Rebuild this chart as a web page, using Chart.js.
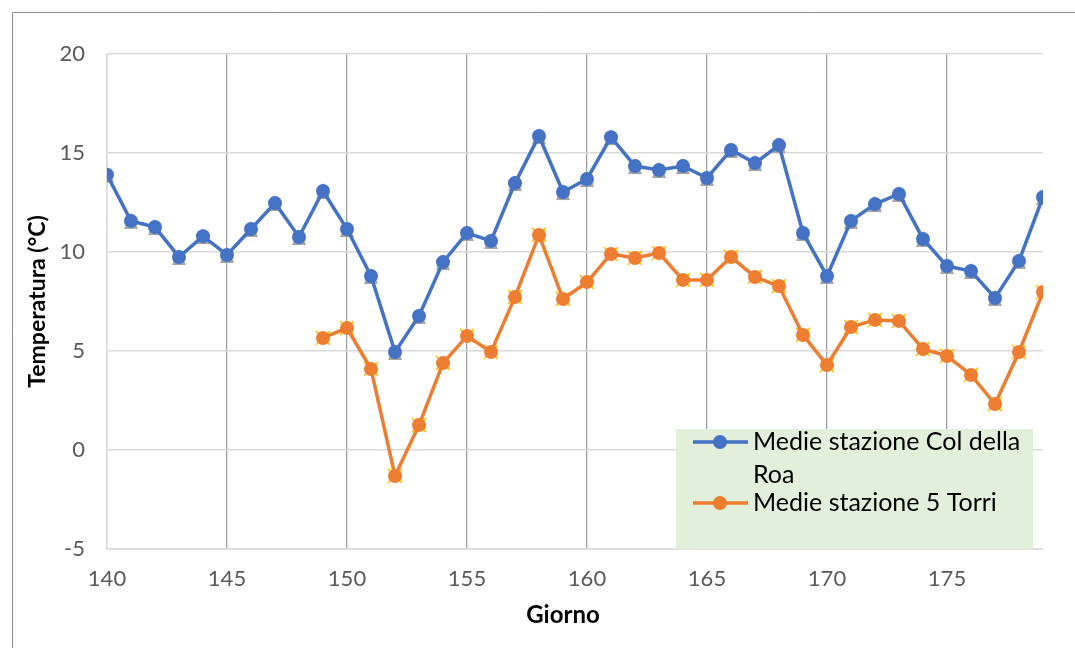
<!DOCTYPE html>
<html><head><meta charset="utf-8">
<script src="https://cdn.jsdelivr.net/npm/chart.js@4"></script>
<style>html,body{margin:0;padding:0;background:#fff}#wrap{width:1075px;height:648px}</style>
</head><body><div id="wrap"><canvas id="c" width="1075" height="648"></canvas></div>
<script>
// ---- data ----
const days = [140,141,142,143,144,145,146,147,148,149,150,151,152,153,154,155,156,157,158,159,160,161,162,163,164,165,166,167,168,169,170,171,172,173,174,175,176,177,178,179];
const colDellaRoa = [13.9,11.57,11.26,9.75,10.8,9.85,11.16,12.47,10.76,13.08,11.16,8.79,4.95,6.77,9.49,10.96,10.56,13.48,15.86,13.03,13.69,15.8,14.34,14.14,14.34,13.74,15.15,14.49,15.4,10.96,8.79,11.57,12.42,12.93,10.66,9.29,9.04,7.68,9.55,12.78];
const cinqueTorri = [null,null,null,null,null,null,null,null,null,5.66,6.16,4.09,-1.31,1.26,4.39,5.76,4.95,7.73,10.86,7.63,8.48,9.9,9.7,9.95,8.59,8.59,9.75,8.74,8.28,5.81,4.29,6.21,6.57,6.52,5.1,4.75,3.79,2.32,4.95,7.98];
const seriesNames = ["Medie stazione Col della Roa","Medie stazione 5 Torri"];
const xTickStep = 5, xMin = 140, xMax = 179;
const yTickStep = 5, yMin = -5, yMax = 20;
const xTitle = "Giorno", yTitle = "Temperatura (°C)";

const BLUE = '#4472c4', ORANGE = '#ed7d31';
const FONT = 'Lato, "Open Sans", sans-serif';
const pts = arr => days.map((d,i)=>({x:d,y:arr[i]}));

// gray triangle marker peeking under the blue circles
function triImg(){
  const c=document.createElement('canvas'); c.width=20; c.height=24;
  const g=c.getContext('2d'); g.fillStyle='#a5a5a5';
  g.beginPath(); g.moveTo(10,4); g.lineTo(17,20); g.lineTo(3,20); g.closePath(); g.fill();
  return c;
}

Chart.defaults.font.family = FONT;

const frame = {
  id:'frame',
  beforeDraw(ch){
    const ctx=ch.ctx; ctx.save();
    ctx.fillStyle='#fff'; ctx.fillRect(0,0,ch.width,ch.height);
    ctx.strokeStyle='#8c8c8c'; ctx.lineWidth=1;
    ctx.beginPath(); ctx.moveTo(12.5,648); ctx.lineTo(12.5,12.5); ctx.lineTo(1075,12.5); ctx.stroke();
    ctx.restore();
  }
};

const xTitleDraw = {
  id:'xTitleDraw',
  afterDraw(ch){
    const ctx=ch.ctx; ctx.save();
    ctx.font='bold 24px '+FONT; ctx.fillStyle='#000';
    ctx.textAlign='center'; ctx.textBaseline='middle';
    ctx.fillText(xTitle,563,615);
    ctx.restore();
  }
};

const legendBox = {
  id:'legendBox',
  afterDraw(ch){
    const ctx=ch.ctx; ctx.save();
    ctx.fillStyle='#e2efda'; ctx.fillRect(676,429,357,120);
    ctx.font='25px '+FONT;
    ctx.textBaseline='middle'; ctx.fillStyle='#000';
    const entries=[{name:seriesNames[0],color:BLUE,y:442},{name:seriesNames[1],color:ORANGE,y:503}];
    entries.forEach(e=>{
      ctx.strokeStyle=e.color; ctx.lineWidth=3.5;
      ctx.beginPath(); ctx.moveTo(693,e.y); ctx.lineTo(748,e.y); ctx.stroke();
      ctx.fillStyle=e.color; ctx.beginPath(); ctx.arc(720,e.y,7,0,Math.PI*2); ctx.fill();
      ctx.fillStyle='#000';
      const words=e.name.split(' '); let line=''; let yy=e.y;
      words.forEach(w=>{
        const t=line?line+' '+w:w;
        if(ctx.measureText(t).width>272 && line){ ctx.fillText(line,753,yy); line=w; yy+=33; }
        else line=t;
      });
      ctx.fillText(line,753,yy);
    });
    ctx.restore();
  }
};

new Chart(document.getElementById('c'),{
  type:'line',
  data:{datasets:[
    {label:seriesNames[0],data:pts(colDellaRoa),borderColor:BLUE,backgroundColor:BLUE,borderWidth:3.5,
     pointRadius:7,pointHoverRadius:7,pointBorderWidth:0,pointBackgroundColor:BLUE,tension:0,order:1},
    {label:'_tri',data:pts(colDellaRoa),showLine:false,pointStyle:triImg(),pointRadius:10,order:2},
    {label:seriesNames[1],data:pts(cinqueTorri),borderColor:ORANGE,backgroundColor:ORANGE,borderWidth:3.5,
     pointRadius:7,pointHoverRadius:7,pointBorderWidth:0,pointBackgroundColor:ORANGE,tension:0,spanGaps:false,order:3},
    {label:'_x',data:pts(cinqueTorri),showLine:false,pointStyle:'crossRot',pointRadius:10,borderColor:'#ffc000',pointBorderColor:'#ffc000',pointBorderWidth:1.5,order:4}
  ]},
  options:{
    responsive:false, animation:false, devicePixelRatio:1,
    layout:{padding:{left:0,top:54,right:32,bottom:0}},
    plugins:{legend:{display:false},tooltip:{enabled:false}},
    scales:{
      x:{type:'linear',min:xMin,max:xMax,
        ticks:{stepSize:xTickStep,includeBounds:false,color:'#595959',font:{size:22},padding:17,maxRotation:0},
        grid:{drawTicks:false,color:c=>c.index===0?'#d9d9d9':'#a0a0a0',lineWidth:1.3},
        border:{display:true,color:'#d9d9d9',width:1.5},
        title:{display:false,text:xTitle},
        afterFit:s=>{s.height=99;}
      },
      y:{min:yMin,max:yMax,
        ticks:{stepSize:yTickStep,color:'#595959',font:{size:22},padding:22},
        grid:{drawTicks:false,color:'#d9d9d9',lineWidth:1.5},
        border:{display:true,color:'#d9d9d9',width:1.5},
        title:{display:true,text:yTitle,color:'#000',font:{size:23,weight:'bold'},padding:{top:24,bottom:0}},
        afterFit:s=>{s.width=107;}
      }
    }
  },
  plugins:[frame,legendBox,xTitleDraw]
});
</script></body></html>
